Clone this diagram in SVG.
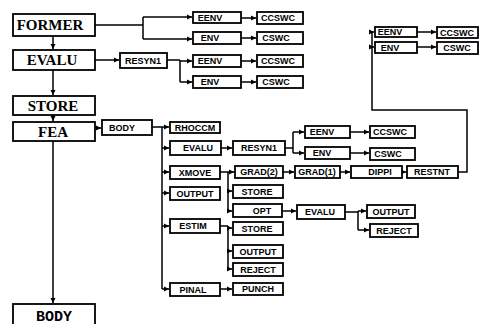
<svg xmlns="http://www.w3.org/2000/svg" width="479" height="324" viewBox="0 0 479 324">
<style>
.b{fill:#fff;stroke:#000;stroke-width:1.8}
.t{font-family:'Liberation Sans',Arial,sans-serif;font-weight:bold;font-size:9px;text-anchor:middle;dominant-baseline:central;fill:#000}
.T{font-weight:bold;font-size:15px;text-anchor:middle;dominant-baseline:central;fill:#000}
.c{fill:none;stroke:#000;stroke-width:1.5}
.a{fill:none;stroke:#000;stroke-width:1.5;marker-end:url(#ah)}
</style>
<defs>
<marker id="ah" markerUnits="userSpaceOnUse" markerWidth="6" markerHeight="6" refX="5" refY="3" orient="auto">
<path d="M0,0.5 L5,3 L0,5.5 z" fill="#000"/>
</marker>
</defs>
<rect width="479" height="324" fill="#fff"/>
<g id="connectors">
<path class="a" d="M53,36 V49"/>
<path class="a" d="M53,70 V95"/>
<path class="a" d="M53,115 V121"/>
<path class="a" d="M53,141 V303"/>
<path class="c" d="M95,25 H143 M143,17 V39"/>
<path class="a" d="M143,17 H192"/>
<path class="a" d="M143,39 H192"/>
<path class="a" d="M241,18 H256"/>
<path class="a" d="M241,38 H256"/>
<path class="a" d="M95,60 H119"/>
<path class="c" d="M167,60 H180 M180,60 V82"/>
<path class="a" d="M180,61 H192"/>
<path class="a" d="M180,82 H192"/>
<path class="a" d="M241,61 H256"/>
<path class="a" d="M241,82 H256"/>
<path class="c" d="M458,172 H467 V110 H372 V32"/>
<path class="a" d="M372,32 H374"/>
<path class="a" d="M372,47 H374"/>
<path class="a" d="M417,32 H436"/>
<path class="a" d="M417,47 H436"/>
<path class="a" d="M95,128 H101"/>
<path class="c" d="M152,127 H162 M162,127 V289"/>
<path class="a" d="M162,127 H169"/>
<path class="a" d="M162,148 H169"/>
<path class="a" d="M162,172 H169"/>
<path class="a" d="M162,193 H169"/>
<path class="a" d="M162,226 H169"/>
<path class="a" d="M162,289 H169"/>
<path class="a" d="M221,148 H232"/>
<path class="c" d="M285,148 H293 M293,132 V153"/>
<path class="a" d="M293,132 H304"/>
<path class="a" d="M293,153 H304"/>
<path class="a" d="M350,132 H369"/>
<path class="a" d="M350,153 H369"/>
<path class="c" d="M220,172 H228 M228,172 V211"/>
<path class="a" d="M228,172 H234"/>
<path class="a" d="M228,191 H232"/>
<path class="a" d="M228,211 H232"/>
<path class="a" d="M283,172 H294"/>
<path class="a" d="M340,172 H350"/>
<path class="a" d="M402,172 H406"/>
<path class="a" d="M282,211 H296"/>
<path class="c" d="M345,212 H358 M358,211 V230"/>
<path class="a" d="M358,211 H366"/>
<path class="a" d="M358,230 H369"/>
<path class="c" d="M220,226 H228 M228,226 V269"/>
<path class="a" d="M228,228 H232"/>
<path class="a" d="M228,251 H232"/>
<path class="a" d="M228,269 H232"/>
<path class="a" d="M220,289 H232"/>
</g>
<g id="former"><rect class="b" x="13" y="14" width="82" height="22"/><text class="T" x="50" y="25" font-family="Liberation Serif, DejaVu Serif, serif">FORMER</text></g>
<g id="evalu"><rect class="b" x="13" y="50" width="82" height="20"/><text class="T" x="52" y="60" font-family="Liberation Serif, DejaVu Serif, serif">EVALU</text></g>
<g id="store"><rect class="b" x="13" y="96" width="82" height="19"/><text class="T" x="53" y="106" font-family="Liberation Serif, DejaVu Serif, serif">STORE</text></g>
<g id="fea"><rect class="b" x="13" y="122" width="82" height="19"/><text class="T" x="53" y="132" font-family="Liberation Serif, DejaVu Serif, serif">FEA</text></g>
<g id="body-main"><rect class="b" x="13" y="304" width="82" height="26"/><text class="T" x="54" y="317" font-family="Liberation Mono, DejaVu Sans Mono, monospace">BODY</text></g>
<g id="eenv1"><rect class="b" x="193" y="12" width="48" height="11"/><text class="t" x="210" y="17.5">EENV</text></g>
<g id="env1"><rect class="b" x="193" y="32" width="48" height="12"/><text class="t" x="210" y="38">ENV</text></g>
<g id="ccswc1"><rect class="b" x="257" y="12" width="46" height="12"/><text class="t" x="278" y="18">CCSWC</text></g>
<g id="cswc1"><rect class="b" x="257" y="32" width="46" height="12"/><text class="t" x="276" y="38">CSWC</text></g>
<g id="resyn1a"><rect class="b" x="120" y="53" width="47" height="15"/><text class="t" x="143" y="60.5">RESYN1</text></g>
<g id="eenv2"><rect class="b" x="193" y="55" width="48" height="12"/><text class="t" x="210" y="61">EENV</text></g>
<g id="env2"><rect class="b" x="193" y="76" width="48" height="12"/><text class="t" x="210" y="82">ENV</text></g>
<g id="ccswc2"><rect class="b" x="257" y="55" width="46" height="12"/><text class="t" x="278" y="61">CCSWC</text></g>
<g id="cswc2"><rect class="b" x="257" y="76" width="46" height="12"/><text class="t" x="276" y="82">CSWC</text></g>
<g id="eenv3"><rect class="b" x="375" y="27" width="42" height="10"/><text class="t" x="390" y="32">EENV</text></g>
<g id="env3"><rect class="b" x="375" y="42" width="42" height="11"/><text class="t" x="390" y="47.5">ENV</text></g>
<g id="ccswc3"><rect class="b" x="437" y="27" width="41" height="11"/><text class="t" x="457" y="32.5">CCSWC</text></g>
<g id="cswc3"><rect class="b" x="437" y="42" width="41" height="12"/><text class="t" x="457" y="48">CSWC</text></g>
<g id="body-sub"><rect class="b" x="102" y="120" width="50" height="15"/><text class="t" x="122" y="127.5">BODY</text></g>
<g id="rhoccm"><rect class="b" x="170" y="122" width="50" height="11"/><text class="t" x="195" y="127.5">RHOCCM</text></g>
<g id="evalu2"><rect class="b" x="170" y="141" width="51" height="14"/><text class="t" x="198" y="148">EVALU</text></g>
<g id="xmove"><rect class="b" x="170" y="166" width="50" height="13"/><text class="t" x="195" y="172.5">XMOVE</text></g>
<g id="output1"><rect class="b" x="170" y="187" width="50" height="13"/><text class="t" x="195" y="193.5">OUTPUT</text></g>
<g id="estim"><rect class="b" x="170" y="219" width="50" height="14"/><text class="t" x="193" y="226">ESTIM</text></g>
<g id="pinal"><rect class="b" x="170" y="283" width="50" height="13"/><text class="t" x="193" y="289.5">PINAL</text></g>
<g id="resyn1b"><rect class="b" x="233" y="141" width="52" height="14"/><text class="t" x="259" y="148">RESYN1</text></g>
<g id="eenv4"><rect class="b" x="305" y="126" width="45" height="12"/><text class="t" x="322" y="132">EENV</text></g>
<g id="env4"><rect class="b" x="305" y="147" width="45" height="12"/><text class="t" x="322" y="153">ENV</text></g>
<g id="ccswc4"><rect class="b" x="370" y="126" width="45" height="12"/><text class="t" x="390" y="132">CCSWC</text></g>
<g id="cswc4"><rect class="b" x="370" y="148" width="45" height="12"/><text class="t" x="388" y="154">CSWC</text></g>
<g id="grad2"><rect class="b" x="235" y="166" width="48" height="12"/><text class="t" x="259" y="172">GRAD(2)</text></g>
<g id="grad1"><rect class="b" x="295" y="166" width="45" height="12"/><text class="t" x="317" y="172">GRAD(1)</text></g>
<g id="dippi"><rect class="b" x="351" y="166" width="51" height="12"/><text class="t" x="380" y="172">DIPPI</text></g>
<g id="restnt"><rect class="b" x="407" y="166" width="51" height="12"/><text class="t" x="432" y="172">RESTNT</text></g>
<g id="store1"><rect class="b" x="233" y="185" width="50" height="13"/><text class="t" x="257" y="191.5">STORE</text></g>
<g id="opt"><rect class="b" x="233" y="204" width="49" height="13"/><text class="t" x="262" y="210.5">OPT</text></g>
<g id="evalu3"><rect class="b" x="297" y="205" width="48" height="14"/><text class="t" x="320" y="212">EVALU</text></g>
<g id="output2"><rect class="b" x="367" y="205" width="48" height="13"/><text class="t" x="391" y="211.5">OUTPUT</text></g>
<g id="reject2"><rect class="b" x="370" y="224" width="48" height="13"/><text class="t" x="394" y="230.5">REJECT</text></g>
<g id="store2"><rect class="b" x="233" y="222" width="50" height="13"/><text class="t" x="257" y="228.5">STORE</text></g>
<g id="output3"><rect class="b" x="233" y="245" width="50" height="13"/><text class="t" x="258" y="251.5">OUTPUT</text></g>
<g id="reject3"><rect class="b" x="233" y="263" width="50" height="13"/><text class="t" x="258" y="269.5">REJECT</text></g>
<g id="punch"><rect class="b" x="233" y="283" width="50" height="12"/><text class="t" x="258" y="289">PUNCH</text></g>
</svg>
